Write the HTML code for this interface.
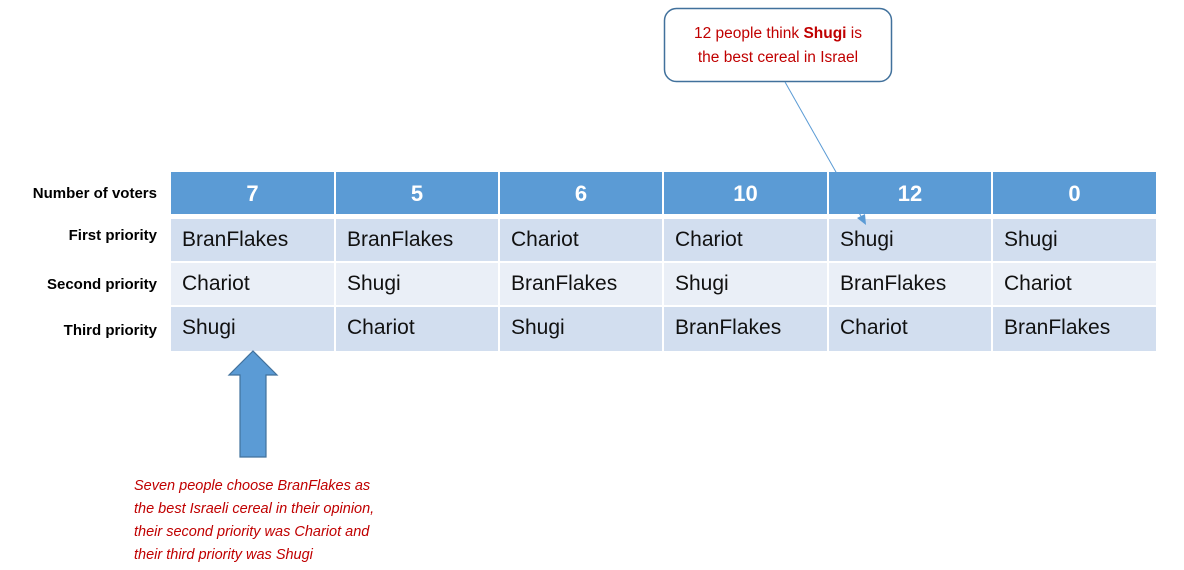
<!DOCTYPE html>
<html><head><style>
body{margin:0;width:1184px;height:570px;background:#fff;position:relative;font-family:"Liberation Sans",sans-serif;overflow:hidden}
.c{position:absolute;box-sizing:border-box;font-size:21px;color:#111;padding-left:11px;line-height:1}
.h{background:#5B9BD5;color:#fff;font-weight:bold;font-size:22px;text-align:center;padding:0}
.lab{position:absolute;font-weight:bold;font-size:15px;color:#000;text-align:right;width:157px;left:0}
</style></head><body>
<div class="lab" style="top:185px">Number of voters</div>
<div class="lab" style="top:227px">First priority</div>
<div class="lab" style="top:276px">Second priority</div>
<div class="lab" style="top:322px">Third priority</div>
<div id="t"></div>
<svg width="1184" height="570" style="position:absolute;left:0;top:0">
<rect x="664.5" y="8.5" width="227" height="73" rx="12" fill="#fff" stroke="#41719C" stroke-width="1.5"/>
<line x1="785" y1="82" x2="862" y2="218" stroke="#5B9BD5" stroke-width="1"/>
<polygon points="866,225 857,218 865,214" fill="#5B9BD5"/>
<polygon points="253,351 277,375 266,375 266,457 240,457 240,375 229,375" fill="#5B9BD5" stroke="#41719C" stroke-width="1.2"/>
<text x="778" y="38" text-anchor="middle" font-size="15.5" fill="#C00000" font-family="Liberation Sans">12 people think <tspan font-weight="bold">Shugi</tspan> is</text>
<text x="778" y="62" text-anchor="middle" font-size="15.5" fill="#C00000" font-family="Liberation Sans">the best cereal in Israel</text>
<g font-size="14.5" font-style="italic" fill="#C00000" font-family="Liberation Sans">
<text x="134" y="490">Seven people choose BranFlakes as</text>
<text x="134" y="513">the best Israeli cereal in their opinion,</text>
<text x="134" y="536">their second priority was Chariot and</text>
<text x="134" y="559">their third priority was Shugi</text>
</g>
</svg>
<script>
var xs=[171,335,499,663,828,992,1157];
var rows=[["7","5","6","10","12","0"],["BranFlakes","BranFlakes","Chariot","Chariot","Shugi","Shugi"],["Chariot","Shugi","BranFlakes","Shugi","BranFlakes","Chariot"],["Shugi","Chariot","Shugi","BranFlakes","Chariot","BranFlakes"]];
var ys=[[172,214],[219,261],[263,305],[307,351]];
var bg=["#5B9BD5","#D2DEEF","#EAEFF7","#D2DEEF"];
var h="";
for(var r=0;r<4;r++)for(var c=0;c<6;c++){
var x=xs[c]+(c?1:0),w=xs[c+1]-x-1,y=ys[r][0],hh=ys[r][1]-y;
h+='<div class="c'+(r?'':' h')+'" style="left:'+x+'px;top:'+y+'px;width:'+w+'px;height:'+hh+'px;background:'+bg[r]+';padding-top:'+(r?10:11)+'px">'+rows[r][c]+'</div>';}
document.getElementById("t").innerHTML=h;
</script>
</body></html>
